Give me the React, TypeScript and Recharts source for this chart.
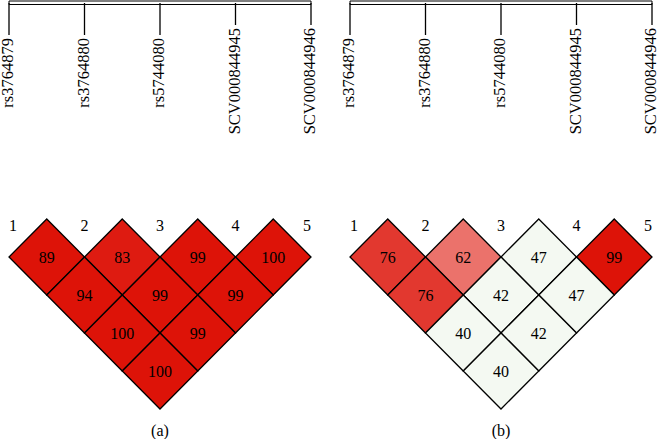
import { ScatterChart, Scatter, XAxis, YAxis, ReferenceArea } from 'recharts'

const snps = ['rs3764879', 'rs3764880', 'rs5744080', 'SCV000844945', 'SCV000844946']
const markerNumbers = ['1', '2', '3', '4', '5']
// pairs of markers, in the order the cells are read (row by row)
const pairs = [
  [1, 2], [2, 3], [3, 4], [4, 5],
  [1, 3], [2, 4], [3, 5],
  [1, 4], [2, 5],
  [1, 5],
]
const dPrimeA = [89, 83, 99, 100, 94, 99, 99, 100, 99, 100]
const dPrimeB = [76, 62, 47, 99, 76, 42, 47, 40, 42, 40]
const panelLabels = ['(a)', '(b)']

const W = 315
const H = 439
const STEP = 75.5 // px between markers
const FIRST_X = 9
const TIP_Y = 219 // top tips of first row of diamonds
const ROW_H = 38
const FONT = '"Liberation Serif", "Times New Roman", serif'

const xDomain = [1 - FIRST_X / STEP, 1 + (W - FIRST_X) / STEP]
const yDomain = [-TIP_Y / ROW_H, (H - TIP_Y) / ROW_H]
const rowAt = (px: number) => (px - TIP_Y) / ROW_H

function cellColor(v: number) {
  if (v < 50) return '#f4f9f2'
  if (v >= 85) return '#dd1308'
  const t = Math.min(1, (85 - v) * 0.0175)
  const mix = (c: number) => Math.round(c + (255 - c) * t)
  return `rgb(${mix(221)},${mix(19)},${mix(8)})`
}

function Diamond(props: any) {
  const { cx, cy, payload } = props
  const hw = STEP / 2
  const hh = ROW_H
  return (
    <g>
      <polygon
        points={`${cx},${cy - hh} ${cx + hw},${cy} ${cx},${cy + hh} ${cx - hw},${cy}`}
        fill={cellColor(payload.value)}
        stroke="#000"
        strokeWidth={1.3}
      />
      <text x={cx} y={cy} textAnchor="middle" dominantBaseline="central" fontSize={16} fontFamily={FONT} fill="#000">
        {payload.value}
      </text>
    </g>
  )
}

function Marker(props: any) {
  const { cx, cy, payload } = props
  const len = payload.name.length > 10 ? 22 : 32
  const tx = cx - 1.5
  const ty = cy + len + 3
  return (
    <g>
      <line x1={cx} y1={cy} x2={cx} y2={cy + len} stroke="#000" strokeWidth={1.3} />
      <text
        x={tx}
        y={ty}
        transform={`rotate(-90 ${tx} ${ty})`}
        textAnchor="end"
        dominantBaseline="central"
        fontSize={16.5}
        fontFamily={FONT}
        fill="#000"
      >
        {payload.name}
      </text>
    </g>
  )
}

function MarkerNumber(props: any) {
  const { cx, cy, payload, index } = props
  const anchor = index === 0 ? 'start' : index === markerNumbers.length - 1 ? 'end' : 'middle'
  return (
    <text x={cx} y={cy} textAnchor={anchor} dominantBaseline="central" fontSize={16} fontFamily={FONT} fill="#000">
      {payload.name}
    </text>
  )
}

function Caption(props: any) {
  const { cx, cy, payload } = props
  return (
    <text x={cx} y={cy} textAnchor="middle" dominantBaseline="central" fontSize={16} fontFamily={FONT} fill="#000">
      {payload.name}
    </text>
  )
}

function LDPanel({ values, label }: { values: number[]; label: string }) {
  const cells = pairs.map(([i, j], k) => ({ x: (i + j) / 2, y: j - i, value: values[k] }))
  const markers = snps.map((name, k) => ({ x: k + 1, y: rowAt(3), name }))
  const numbers = markerNumbers.map((name, k) => ({ x: k + 1, y: rowAt(225), name }))
  const caption = [{ x: 3, y: rowAt(430), name: label }]

  return (
    <ScatterChart width={W} height={H} margin={{ top: 0, right: 0, bottom: 0, left: 0 }}>
      <XAxis type="number" dataKey="x" domain={xDomain} hide />
      <YAxis type="number" dataKey="y" domain={yDomain} reversed hide />
      <ReferenceArea x1={1} x2={5} y1={rowAt(1)} y2={rowAt(4.5)} fill="#fff" fillOpacity={1} stroke="#000" strokeWidth={1} />
      <Scatter data={markers} shape={Marker} isAnimationActive={false} />
      <Scatter data={numbers} shape={MarkerNumber} isAnimationActive={false} />
      <Scatter data={cells} shape={Diamond} isAnimationActive={false} />
      <Scatter data={caption} shape={Caption} isAnimationActive={false} />
    </ScatterChart>
  )
}

export default function App() {
  return (
    <div style={{ position: 'absolute', left: 0, top: 0, width: 657, height: 439, background: '#fff', overflow: 'hidden' }}>
      <style>{'.recharts-surface, .recharts-wrapper { overflow: visible !important; }'}</style>
      <div style={{ position: 'absolute', left: 0, top: 0 }}>
        <LDPanel values={dPrimeA} label={panelLabels[0]} />
      </div>
      <div style={{ position: 'absolute', left: 341, top: 0 }}>
        <LDPanel values={dPrimeB} label={panelLabels[1]} />
      </div>
    </div>
  )
}
